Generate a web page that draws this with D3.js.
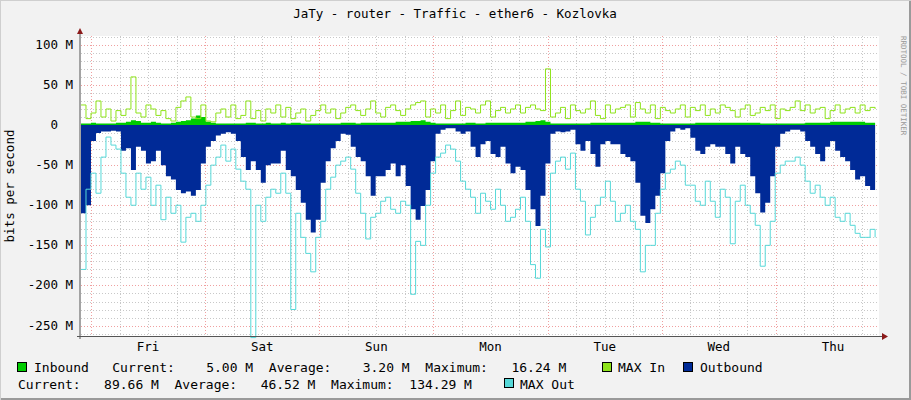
<!DOCTYPE html>
<html>
<head>
<meta charset="utf-8">
<script src="https://cdn.jsdelivr.net/npm/d3@7"></script>
<style>
  body { margin: 0; background: #f2f2f2; }
  text { font-family: "DejaVu Sans Mono", monospace; fill: #000; }
</style>
</head>
<body>
<div class="container"></div>
<script>
// hours since Friday 00:00, one sample every 1.05 h
const startHour = -2.1, stepHour = 1.05;
const dayNames = ["Fri", "Sat", "Sun", "Mon", "Tue", "Wed", "Thu"];
const yTicks = [100, 50, 0, -50, -100, -150, -200, -250];

// Mbit/s
const inbound = [2,2,3,2,2,2,2,3,3,4,6,5,3,3,4,3,2,2,3,4,5,6,8,12,10,4,3,2,2,2,2,2,2,3,3,2,2,3,2,2,3,2,3,3,2,2,2,2,2,2,2,2,3,3,3,2,3,3,3,3,3,3,3,4,4,4,5,5,6,4,3,2,2,2,2,2,2,3,3,2,2,3,3,3,3,3,3,3,3,4,4,5,6,4,2,2,2,2,2,2,2,2,3,3,3,3,3,3,3,3,3,4,4,4,3,3,2,2,2,2,2,2,2,3,3,3,3,3,3,3,3,3,3,3,3,3,2,2,2,2,2,2,2,2,2,3,3,3,3,3,4,4,4,4,4,4,4,3,3,3];
const maxIn = [25,8,15,30,10,20,5,18,12,20,60,15,10,25,20,12,18,8,5,22,30,35,10,8,25,5,4,15,20,10,25,8,12,30,8,18,5,20,15,25,10,22,8,15,20,5,12,18,25,15,20,8,15,22,25,18,12,20,30,15,10,22,25,18,12,20,25,28,30,10,20,15,25,8,18,30,12,22,20,15,25,30,10,18,22,15,20,25,15,22,25,20,18,70,10,15,22,8,25,18,15,20,30,12,8,25,15,20,22,25,10,28,20,15,25,8,22,18,15,20,25,10,22,18,25,12,20,15,25,22,18,10,20,25,12,15,22,18,25,8,20,18,22,30,18,25,15,20,22,8,18,25,15,20,22,15,25,18,22,20];
const outbound = [110,100,20,10,8,8,7,8,32,29,56,27,32,48,45,32,50,64,68,81,85,83,88,81,48,27,20,13,11,9,11,20,40,56,45,56,72,50,48,48,32,56,64,81,97,118,134,118,72,45,29,20,11,12,27,40,45,64,88,64,64,56,48,64,50,76,105,118,101,81,45,11,6,4,4,8,11,8,27,40,24,20,36,40,27,48,60,52,56,81,105,126,88,48,11,8,9,8,6,24,32,20,36,52,24,20,24,24,36,40,45,72,113,122,105,88,60,20,8,4,6,4,16,32,36,27,24,27,27,36,48,27,36,40,64,85,109,97,64,27,11,8,6,6,8,20,27,36,45,27,20,32,40,45,56,68,64,76,81,93];
const maxOut = [180,80,60,85,40,15,25,30,60,90,100,60,80,65,100,75,118,90,110,100,146,115,110,120,100,75,50,40,25,45,30,55,70,80,265,100,120,90,80,85,60,85,230,110,140,160,183,140,120,80,65,50,45,40,55,85,110,142,115,110,95,90,105,110,95,100,211,145,150,100,60,40,35,25,30,45,70,80,90,110,85,95,105,80,100,120,115,105,90,120,174,191,130,152,60,45,40,55,35,80,95,137,115,100,90,70,95,120,110,100,120,130,183,150,150,110,80,60,55,45,50,75,75,95,100,70,95,115,80,90,148,95,75,100,110,125,176,150,120,60,50,45,45,40,50,70,85,75,90,100,90,115,120,110,125,135,140,140,130,140];

const W = 911, H = 400;
const margin = { top: 36, left: 81, right: 32, bottom: 64 };

const svg = d3.select(".container").append("svg")
    .attr("width", W).attr("height", H);

// frame
svg.append("rect").attr("x", 0.5).attr("y", 0.5).attr("width", W - 1).attr("height", H - 1)
    .attr("fill", "#f2f2f2").attr("stroke", "#cfcfcf");
svg.append("path").attr("d", `M${W - 1},1V${H - 1}H1`).attr("fill", "none").attr("stroke", "#9a9a9a").attr("stroke-width", 2);

const x = d3.scaleLinear()
    .domain([startHour, startHour + stepHour * (outbound.length - 1) + 3.9 * stepHour / 5])
    .range([margin.left, W - margin.right]);
const y = d3.scaleLinear().domain([-263, 111]).range([H - margin.bottom, margin.top]);

const tOf = i => startHour + i * stepHour;

svg.append("rect").attr("x", x.range()[0]).attr("y", margin.top)
    .attr("width", x.range()[1] - x.range()[0]).attr("height", y(-263) - margin.top)
    .attr("fill", "#fff");

// grid
const grid = svg.append("g").attr("shape-rendering", "crispEdges");
d3.range(-260, 111, 10).forEach(v => {
    grid.append("line").attr("x1", x.range()[0]).attr("x2", x.range()[1])
        .attr("y1", Math.round(y(v)) + 0.5).attr("y2", Math.round(y(v)) + 0.5)
        .attr("stroke", v % 50 === 0 ? "#f0a0a0" : "#c8c8c8")
        .attr("stroke-dasharray", "1,2");
});
d3.range(-18, 166, 6).filter(h => x(h) > x.range()[0]).forEach(h => {
    grid.append("line").attr("y1", margin.top).attr("y2", y(-263))
        .attr("x1", Math.round(x(h)) + 0.5).attr("x2", Math.round(x(h)) + 0.5)
        .attr("stroke", h % 24 === 0 ? "#f0a0a0" : "#c8c8c8")
        .attr("stroke-dasharray", "1,2");
});

// marks
const stepArea = d3.area().curve(d3.curveStepAfter)
    .x((d, i) => x(tOf(i))).y0(y(0));
const stepLine = d3.line().curve(d3.curveStepAfter).x((d, i) => x(tOf(i)));

svg.append("path").datum(outbound)
    .attr("d", stepArea.y1(d => y(-d))).attr("fill", "#002a97");
svg.append("path").datum(maxOut)
    .attr("d", stepLine.y(d => y(-d))).attr("fill", "none").attr("stroke", "#56d8d8").attr("stroke-width", 1);
svg.append("path").datum(inbound)
    .attr("d", stepArea.y1(d => y(d))).attr("fill", "#00cc00");
svg.append("path").datum(maxIn)
    .attr("d", stepLine.y(d => y(d))).attr("fill", "none").attr("stroke", "#8ee31a").attr("stroke-width", 1);

// axes
svg.append("line").attr("x1", x.range()[0] - 1).attr("x2", x.range()[0] - 1)
    .attr("y1", margin.top - 4).attr("y2", y(-263) + 3).attr("stroke", "#555");
svg.append("line").attr("x1", x.range()[0] - 4).attr("x2", x.range()[1] + 6)
    .attr("y1", y(-263) + 0.5).attr("y2", y(-263) + 0.5).attr("stroke", "#555");
svg.append("path").attr("d", `M${x.range()[0] - 4},${margin.top - 2}l3,-6l3,6z`).attr("fill", "#8b1a1a");
svg.append("path").attr("d", `M${x.range()[1] + 3},${y(-263) - 3}l6,3.5l-6,3.5z`).attr("fill", "#8b1a1a");

svg.selectAll(".ytick").data(yTicks).join("text")
    .attr("x", 73).attr("y", d => y(d) + 4)
    .attr("text-anchor", "end").attr("font-size", 12.5)
    .attr("xml:space", "preserve")
    .text(d => d === 0 ? "0  " : `${d} M`);

svg.selectAll(".xtick").data(dayNames).join("text")
    .attr("x", (d, i) => x(12 + 24 * i)).attr("y", y(-263) + 15)
    .attr("text-anchor", "middle").attr("font-size", 12.5)
    .text(d => d);

svg.append("text").attr("transform", `translate(14,${(margin.top + y(-263)) / 2}) rotate(-90)`)
    .attr("text-anchor", "middle").attr("font-size", 12.5).text("bits per second");

svg.append("text").attr("x", 455).attr("y", 18).attr("text-anchor", "middle")
    .attr("font-size", 12.5).text("JaTy - router - Traffic - ether6 - Kozlovka");

svg.append("text").attr("transform", "translate(901,36) rotate(90)")
    .attr("font-size", 7.5).style("fill", "#999").text("RRDTOOL / TOBI OETIKER");

// legend
const legend = [
    { x: 17, y: 362, color: "#00cc00" },
    { x: 602, y: 362, color: "#8ee31a" },
    { x: 683, y: 362, color: "#002a97" },
    { x: 504, y: 378, color: "#56d8d8" }
];
svg.selectAll(".sw").data(legend).join("rect")
    .attr("x", d => d.x + 0.5).attr("y", d => d.y + 0.5).attr("width", 9).attr("height", 9)
    .attr("fill", d => d.color).attr("stroke", "#000");

const lines = [
    { x: 34, y: 372, t: "Inbound   Current:    5.00 M  Average:    3.20 M  Maximum:   16.24 M" },
    { x: 618, y: 372, t: "MAX In" },
    { x: 700, y: 372, t: "Outbound" },
    { x: 18, y: 389, t: "Current:   89.66 M  Average:   46.52 M  Maximum:  134.29 M" },
    { x: 520, y: 389, t: "MAX Out" }
];
svg.selectAll(".lg").data(lines).join("text")
    .attr("x", d => d.x).attr("y", d => d.y)
    .attr("font-size", 13).attr("xml:space", "preserve")
    .style("white-space", "pre")
    .text(d => d.t);
</script>
</body>
</html>
